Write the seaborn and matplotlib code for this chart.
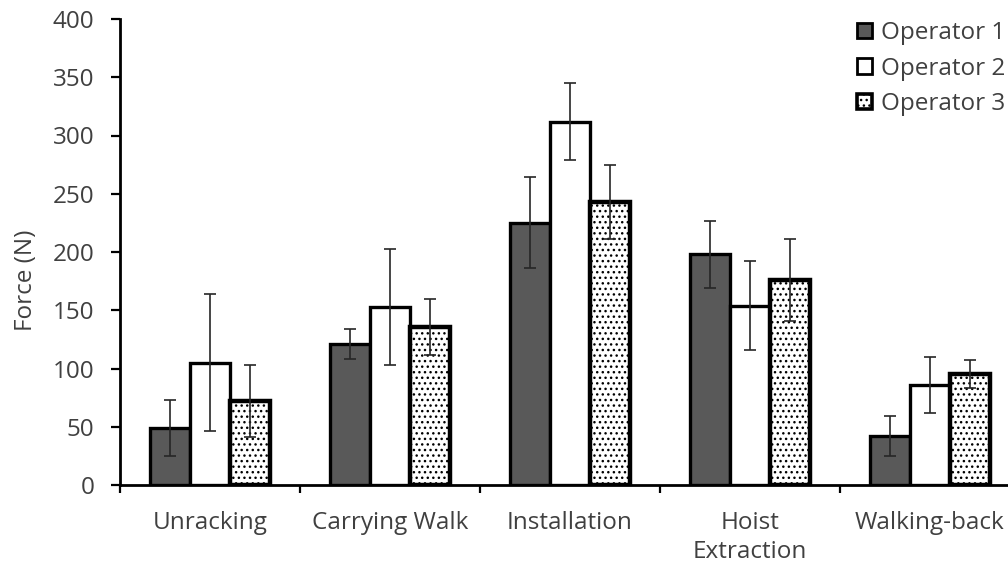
import matplotlib
matplotlib.use("Agg")
import matplotlib.pyplot as plt
from matplotlib.patches import Patch
import seaborn as sns
import pandas as pd

# Mean push/pull force per task and operator, with standard deviations
tasks = ["Unracking", "Carrying Walk", "Installation", "Hoist\nExtraction", "Walking-back"]
operators = ["Operator 1", "Operator 2", "Operator 3"]
op1_mean = [49, 121, 225, 198, 42]
op2_mean = [105, 153, 312, 154, 86]
op3_mean = [72, 136, 243, 176, 95]
op1_sd = [24, 13, 39, 29, 17]
op2_sd = [59, 50, 33, 38, 24]
op3_sd = [31, 24, 32, 35, 12]
y_ticks = [0, 50, 100, 150, 200, 250, 300, 350, 400]

means = [op1_mean, op2_mean, op3_mean]
sds = [op1_sd, op2_sd, op3_sd]

df = pd.DataFrame({
    "Task": [t for _ in operators for t in tasks],
    "Operator": [o for o in operators for _ in tasks],
    "Force": [v for m in means for v in m],
})

sns.set_style("white")
plt.rcParams["font.family"] = ["Open Sans", "DejaVu Sans"]
text_color = "#404040"
fs = 17.5

fig = plt.figure(figsize=(10.08, 5.71), dpi=100)
ax = fig.add_axes([120 / 1008, 86 / 571, 900 / 1008, 466 / 571])

fills = ["#595959", "#ffffff", "#ffffff"]
sns.barplot(data=df, x="Task", y="Force", hue="Operator", order=tasks,
            hue_order=operators, palette=fills, width=0.667, errorbar=None,
            edgecolor="black", linewidth=2.4, saturation=1, legend=False, ax=ax)

# dotted fill and heavier outline for the third operator
for patch in ax.containers[2]:
    patch.set_hatch("...")
    patch.set_linewidth(3.2)

# error bars centred on each bar
for container, sd, mean in zip(ax.containers, sds, means):
    xs = [p.get_x() + p.get_width() / 2 for p in container]
    ax.errorbar(xs, mean, yerr=sd, fmt="none", ecolor="#262626",
                elinewidth=1.2, capsize=4.5, capthick=1.2, zorder=5)

ax.set_ylim(0, 400)
ax.set_yticks(y_ticks)
ax.set_xlim(-0.5, 4.5)
ax.set_xticks(range(len(tasks)))
ax.set_xticklabels(tasks, linespacing=1.25)
ax.set_xticks([i - 0.5 for i in range(len(tasks) + 1)], minor=True)

ax.tick_params(axis="y", which="major", direction="out", length=6.5, width=1.6,
               color="black", labelsize=fs, labelcolor=text_color, pad=12, left=True)
ax.tick_params(axis="x", which="major", length=0, labelsize=fs,
               labelcolor=text_color, pad=19)
ax.tick_params(axis="x", which="minor", direction="out", length=5.5, width=1.6,
               color="black", bottom=True)

for side in ["top", "right"]:
    ax.spines[side].set_visible(False)
for side in ["left", "bottom"]:
    ax.spines[side].set_color("black")
    ax.spines[side].set_linewidth(2)

ax.set_xlabel("")
ax.set_ylabel("Force (N)", fontsize=fs, color=text_color)
ax.yaxis.set_label_coords(-0.091, 0.44)

handles = [
    Patch(facecolor="#595959", edgecolor="black", linewidth=2),
    Patch(facecolor="white", edgecolor="black", linewidth=2),
    Patch(facecolor="white", edgecolor="black", linewidth=2.6, hatch="..."),
]
leg = fig.legend(handles, operators, loc="upper left",
                 bbox_to_anchor=(857 / 1008, 1 - 21 / 571), frameon=False,
                 fontsize=fs, handlelength=0.6, handleheight=0.6,
                 handletextpad=0.38, labelspacing=0.48, borderpad=0,
                 borderaxespad=0)
for t in leg.get_texts():
    t.set_color(text_color)

fig.savefig("out.png", dpi=100)
